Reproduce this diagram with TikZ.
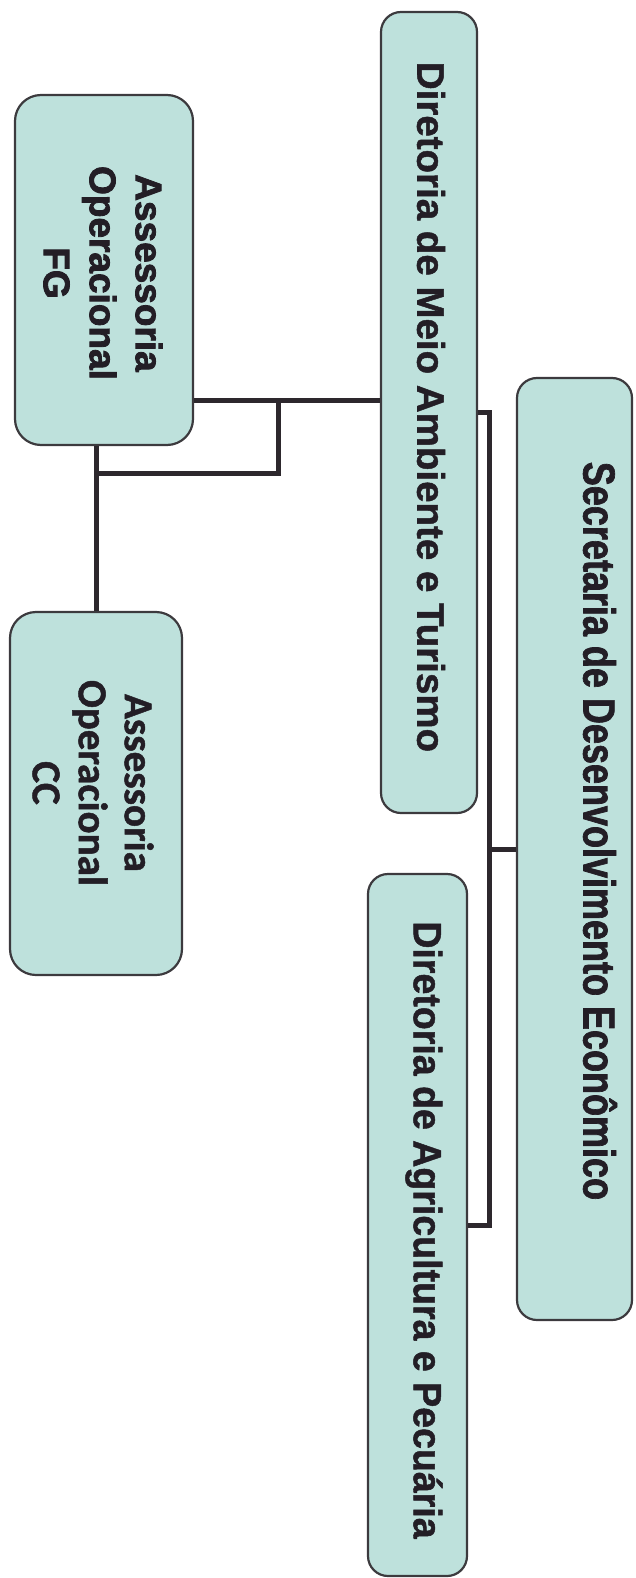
\documentclass[tikz,border=0pt]{standalone}
\usepackage{fontspec}
\setmainfont{Liberation Sans}
\newfontfamily\secfont{Liberation Sans}[FakeStretch=0.80,BoldFeatures={FakeBold=1.5}]
\newfontfamily\dirfont{Liberation Sans}[BoldFeatures={FakeBold=1.2}]
\newfontfamily\agrfont{Liberation Sans}[FakeStretch=0.95,BoldFeatures={FakeBold=1.2}]
\newfontfamily\fgfont{Liberation Sans}[BoldFeatures={FakeBold=2.2}]
\newfontfamily\ccfont{Carlito}[BoldFeatures={FakeBold=1.2}]
\definecolor{boxfill}{RGB}{190,225,220}
\definecolor{boxline}{RGB}{60,58,62}
\definecolor{linec}{RGB}{45,40,45}
\definecolor{ink}{RGB}{35,30,38}
\begin{document}
\begin{tikzpicture}[x=1pt,y=-1pt,
  box/.style={draw=boxline, line width=2.2pt, fill=boxfill, rounded corners=20pt, inner sep=0pt},
  lbl/.style={rotate=-90, text=ink, inner sep=0pt, align=center},
  conn/.style={draw=linec, line width=5pt}]
\useasboundingbox (0,0) rectangle (635,1578);
% boxes
\node[box, minimum width=115pt, minimum height=942pt] (sec) at (574.5,849) {};
\node[box, minimum width=96pt, minimum height=801pt] (meio) at (429,412.5) {};
\node[box, minimum width=99pt, minimum height=702pt] (agri) at (417.5,1225) {};
\node[box, minimum width=178pt, minimum height=350pt, rounded corners=26pt] (fg) at (104,270) {};
\node[box, minimum width=172pt, minimum height=363pt, rounded corners=26pt] (cc) at (96,793.5) {};
% labels
\node[lbl, font=\secfont\bfseries\fontsize{45}{50}\selectfont] (sect) at (600,831) {Secretaria de Desenvolvimento Econômico};
\node[lbl, font=\dirfont\bfseries\fontsize{38.5}{44}\selectfont] (meiot) at (431,407) {Diretoria de Meio Ambiente e Turismo};
\node[lbl, font=\agrfont\bfseries\fontsize{39.5}{44}\selectfont] (agrit) at (424,1230) {Diretoria de Agricultura e Pecuária};
\node[lbl, font=\fgfont\bfseries\fontsize{37}{46}\selectfont] (fgt) at (103,273) {Assessoria\\Operacional\\FG};
\node[lbl, font=\ccfont\bfseries\fontsize{41}{46}\selectfont] (cct) at (93,783) {Assessoria\\Operacional\\CC};
% connectors
\draw[conn] (sec.west) -- ++(-26,0) coordinate (bus);
\draw[conn] (meio.east) -| (bus) |- (agri.east);
\coordinate (mw) at ([yshift=12pt]meio.west);
\draw[conn] (mw) -- (mw -| fg.east);
\coordinate (ja) at (278,473);
\draw[conn] (mw -| ja) -- (ja) -- (ja -| cc.north);
\draw[conn] (fg.south -| cc.north) -- (cc.north);
\end{tikzpicture}
\end{document}
